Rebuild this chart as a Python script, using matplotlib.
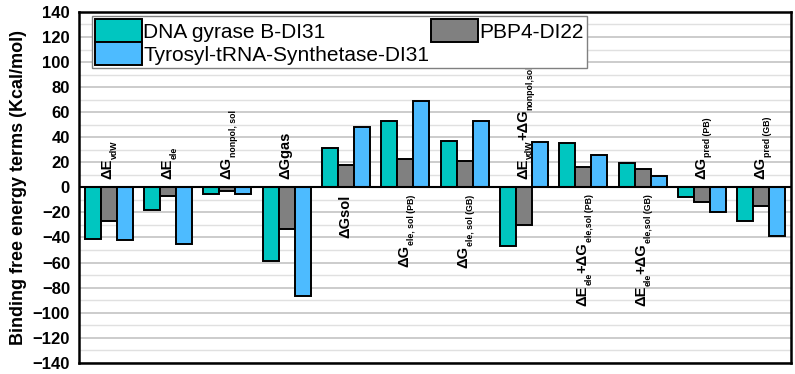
### Importing useful packages
import re
import numpy as np
import matplotlib
matplotlib.use('Agg')
import matplotlib.pyplot as plt
from matplotlib.ticker import MultipleLocator


### Data
terms = ['ΔE_{vdW}', 'ΔE_{ele}', 'ΔG_{nonpol, sol}', 'ΔGgas', 'ΔGsol',
         'ΔG_{ele, sol (PB)}', 'ΔG_{ele, sol (GB)}',
         'ΔE_{vdW}+ΔG_{nonpol,sol}', 'ΔE_{ele}+ΔG_{ele,sol (PB)}',
         'ΔE_{ele}+ΔG_{ele,sol (GB)}', 'ΔG_{pred (PB)}', 'ΔG_{pred (GB)}']

dna_gyrase = [-41.1, -18.0, -5.3, -58.9, 31.3, 53.3, 36.9, -46.4, 35.8, 19.4, -8.0, -26.8]
pbp4 = [-26.5, -6.6, -2.9, -33.2, 17.5, 22.5, 21.0, -29.7, 16.2, 14.6, -11.7, -14.9]
tyrosyl = [-42.2, -44.8, -5.3, -87.0, 48.0, 69.2, 53.3, 36.6, 25.5, 9.3, -19.6, -38.5]

series_names = ['DNA gyrase B-DI31', 'PBP4-DI22', 'Tyrosyl-tRNA-Synthetase-DI31']
series_colors = ['#00C6C0', '#808080', '#4DBBFF']

y_label = 'Binding free energy terms (Kcal/mol)'


### Fonts
plt.rcParams['font.family'] = ['Liberation Sans', 'DejaVu Sans']

### Figure and axes
fig = plt.figure(figsize=(7.95, 3.74), dpi=100)
ax = fig.add_axes([0.0994, 0.030, 0.8956, 0.938])
renderer = fig.canvas.get_renderer()

x = np.arange(len(terms))
w = 0.27

## Draw the three series
bars = []
for i, (vals, name, col) in enumerate(zip([dna_gyrase, pbp4, tyrosyl], series_names, series_colors)):
    b = ax.bar(x + (i - 1) * w, vals, w, color=col, edgecolor='black',
               linewidth=1.4, label=name, zorder=3)
    bars.append(b)

## Zero line
ax.axhline(0, color='black', linewidth=1.5, zorder=4)


### Rotated label with small subscripts, drawn piece by piece
def draw_term(xc, text, above, fs=10.5, sub_scale=0.6, sub_shift=0.36):

    ## Split into main / subscript pieces
    parts = re.split(r'_\{([^}]*)\}', text)
    pieces = [(p, j % 2 == 1) for j, p in enumerate(parts) if p != '']

    ## Create the texts first so they can be measured
    items = []
    for p, is_sub in pieces:
        size = fs * sub_scale if is_sub else fs
        t = ax.annotate(p, (xc, 0), xytext=(0, 0), textcoords='offset points',
                        rotation=90, rotation_mode='anchor', ha='left',
                        va='baseline', fontsize=size, fontweight='bold', zorder=5)
        length = t.get_window_extent(renderer).height * 72.0 / fig.dpi
        items.append((t, is_sub, length))

    total = sum(l for _, _, l in items)

    ## Starting point along the bar direction
    if above:
        pos = 6.0
    else:
        pos = -5.0 - total

    base_x = 0.2 * fs
    for t, is_sub, length in items:
        dx = base_x + (sub_shift * fs if is_sub else 0)
        t.xyann = (dx, pos)
        pos += length


## Category labels inside the plot
for i, t in enumerate(terms):
    draw_term(x[i], t, dna_gyrase[i] < 0)

## Axes limits and ticks
ax.set_xlim(-0.5, len(terms) - 0.5)
ax.set_ylim(-140, 140)
ax.yaxis.set_major_locator(MultipleLocator(20))
ax.yaxis.set_minor_locator(MultipleLocator(10))
ax.set_xticks([])
ax.tick_params(axis='y', which='both', length=0, labelsize=12, pad=6.5)
for lab in ax.get_yticklabels():
    lab.set_fontweight('bold')

## Grid
ax.grid(axis='y', which='major', color='#c4c4c4', linewidth=1.2, zorder=0)
ax.grid(axis='y', which='minor', color='#e0e0e0', linewidth=1.0, zorder=0)
ax.set_axisbelow(True)

## Frame
for s in ax.spines.values():
    s.set_linewidth(1.8)
    s.set_color('black')

## Y label
ax.set_ylabel(y_label, fontsize=13, fontweight='bold', labelpad=4)

## Legend
leg = ax.legend(handles=[bars[0], bars[2], bars[1]],
                labels=[series_names[0], series_names[2], series_names[1]],
                ncol=2, loc='upper left', bbox_to_anchor=(0.0183, 0.988),
                fontsize=15, handlelength=2.25, handleheight=1.3,
                handletextpad=0.05, columnspacing=0.1, labelspacing=0.02,
                borderpad=0.15, borderaxespad=0, fancybox=False, framealpha=1,
                edgecolor='#808080')
leg.get_frame().set_linewidth(1.0)

## Save
fig.savefig('out.png', dpi=100)
